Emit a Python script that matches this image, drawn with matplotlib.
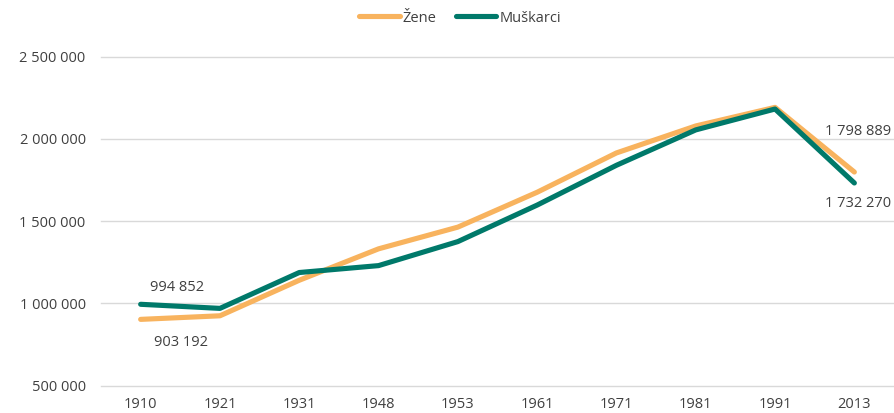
import matplotlib
matplotlib.use("Agg")
import matplotlib.pyplot as plt

years = ["1910", "1921", "1931", "1948", "1953", "1961", "1971", "1981", "1991", "2013"]
zene = [903192, 925000, 1141000, 1332000, 1464000, 1676000, 1915000, 2079000, 2192000, 1798889]
muskarci = [994852, 970000, 1188000, 1230000, 1376000, 1598000, 1840000, 2055000, 2182000, 1732270]
y_ticks = [500000, 1000000, 1500000, 2000000, 2500000]
series_names = ["Žene", "Muškarci"]

orange = "#F8B35E"
green = "#00796A"
text_col = "#404040"

plt.rcParams['font.family'] = ['Open Sans', 'DejaVu Sans']

fig = plt.figure(figsize=(8.94, 4.13), dpi=100)
ax = fig.add_axes([101/894, 1-385.7/413, 1-101/894, (385.7-56.7)/413])

x = list(range(len(years)))
l1, = ax.plot(x, zene, color=orange, lw=3.7, solid_capstyle='round', solid_joinstyle='round', label=series_names[0], zorder=3)
l2, = ax.plot(x, muskarci, color=green, lw=3.7, solid_capstyle='round', solid_joinstyle='round', label=series_names[1], zorder=4)

ax.set_xlim(-0.5, len(years) - 0.5)
ax.set_ylim(y_ticks[0], y_ticks[-1])
ax.set_yticks(y_ticks)
ax.set_yticklabels([f"{v:,}".replace(",", " ") for v in y_ticks])
ax.set_xticks(x)
ax.set_xticklabels(years)
ax.grid(axis='y', color='#d9d9d9', lw=1.0)
ax.set_axisbelow(True)
for s in ax.spines.values():
    s.set_visible(False)
ax.tick_params(axis='both', length=0, labelsize=10.5, colors=text_col)
ax.tick_params(axis='y', pad=11)
ax.tick_params(axis='x', pad=8)
for gl in ax.get_ygridlines():
    gl.set_clip_on(False)

def fmt(v):
    return f"{v:,}".replace(",", " ")

ann = dict(textcoords='offset points', ha='center', va='center', fontsize=10.5, color=text_col, annotation_clip=False)
ax.annotate(fmt(muskarci[0]), (0, muskarci[0]), xytext=(26, 11.8), **ann)
ax.annotate(fmt(zene[0]), (0, zene[0]), xytext=(28.8, -16.9), **ann)
ax.annotate(fmt(zene[-1]), (9, zene[-1]), xytext=(2.6, 29.3), **ann)
ax.annotate(fmt(muskarci[-1]), (9, muskarci[-1]), xytext=(2.6, -15), **ann)

leg = fig.legend(handles=[l1, l2], loc='center', bbox_to_anchor=(460/894, 1-18/413), ncol=2,
                 frameon=False, fontsize=10.5, handlelength=2.8, handletextpad=0.2, columnspacing=1.3,
                 labelcolor=text_col)

fig.savefig("out.png", dpi=100)
